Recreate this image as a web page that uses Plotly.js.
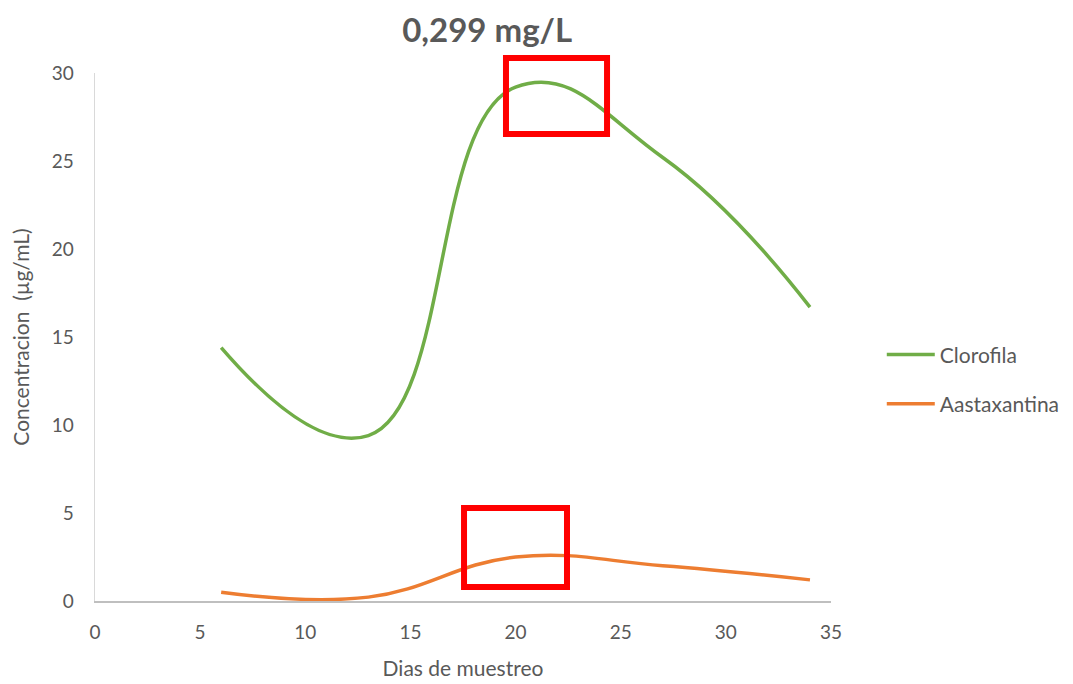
<!DOCTYPE html>
<html><head><meta charset="utf-8">
<script src="https://cdn.plot.ly/plotly-3.0.1.min.js"></script>
<style>html,body{margin:0;padding:0;background:#fff;}#chart{width:1073px;height:684px;}</style>
</head><body><div id="chart"></div>
<script>
const days = [6, 13, 20, 27, 34];
const clorofila = [14.4, 9.4, 29.2, 25.2, 16.7];
const astaxantina = [0.5, 0.22, 2.5, 2.0, 1.2];
const seriesNames = ['Clorofila', 'Aastaxantina'];
const xTicks = [0, 5, 10, 15, 20, 25, 30, 35];
const yTicks = [0, 5, 10, 15, 20, 25, 30];

const font = 'Lato, "Open Sans", sans-serif';
const traces = [
  {x: days, y: clorofila, name: seriesNames[0], mode: 'lines', legendgroup: 'a',
   line: {color: '#70AD47', width: 3.5, shape: 'spline', smoothing: 1.3}},
  {x: days, y: astaxantina, name: seriesNames[1], mode: 'lines', legendgroup: 'b',
   line: {color: '#ED7D31', width: 3.5, shape: 'spline', smoothing: 1.2}}
];
const red = {color: '#FF0000', width: 6};
const layout = {
  width: 1073, height: 684,
  margin: {l: 95, r: 242, t: 73, b: 83, autoexpand: false},
  paper_bgcolor: '#fff', plot_bgcolor: '#fff',
  font: {family: font, color: '#595959', size: 19},
  title: {text: '<b>0,299 mg/L</b>', x: 0.454, xanchor: 'center', y: 0.955, yanchor: 'middle',
          font: {family: font, size: 33, color: '#595959'}},
  xaxis: {range: [0, 35], tickvals: xTicks, showgrid: false, zeroline: false,
          showline: true, linecolor: '#BFBFBF', linewidth: 1.5, ticks: '', ticklen: 0,
          ticklabelstandoff: 14,
          tickfont: {size: 19, color: '#595959'},
          title: {text: 'Dias de muestreo', font: {size: 21, color: '#595959'}, standoff: 19}},
  yaxis: {range: [0, 30], tickvals: yTicks, showgrid: false, zeroline: false,
          showline: true, linecolor: '#D9D9D9', linewidth: 1.5, ticks: '',
          ticklabelstandoff: 16,
          tickfont: {size: 19, color: '#595959'},
          title: {text: 'Concentracion  (µg/mL)', font: {size: 21, color: '#595959'}, standoff: 16}},
  legend: {x: 1.069, xanchor: 'left', y: 0.42, yanchor: 'middle', tracegroupgap: 19,
           itemwidth: 48,
           font: {size: 21, color: '#595959'}, bgcolor: 'rgba(0,0,0,0)'},
  shapes: [
    {type: 'rect', xref: 'paper', yref: 'paper', x0: 0.5584, x1: 0.6957, y0: 0.8845, y1: 1.0284, line: red},
    {type: 'rect', xref: 'paper', yref: 'paper', x0: 0.5014, x1: 0.6413, y0: 0.0265, y1: 0.1761, line: red}
  ],
  showlegend: true
};
Plotly.newPlot('chart', traces, layout, {displayModeBar: false, staticPlot: true});
</script></body></html>
